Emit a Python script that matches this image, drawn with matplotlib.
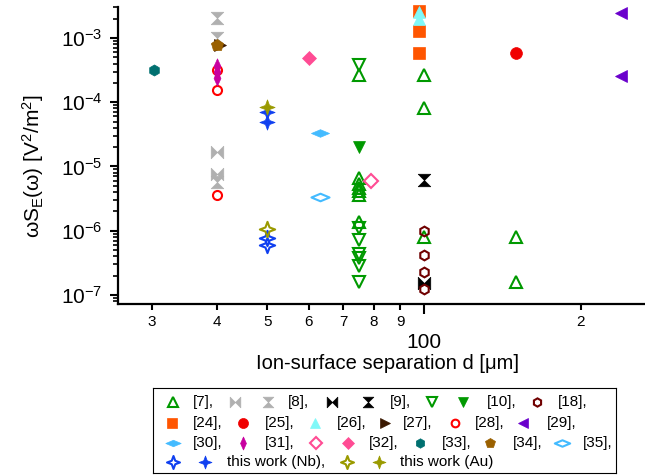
import numpy as np
import matplotlib
matplotlib.use('Agg')
from matplotlib import pyplot as plt
from matplotlib.path import Path
from matplotlib.ticker import FixedLocator, FixedFormatter, LogLocator, NullFormatter

plt.rcParams['font.family'] = ['Liberation Sans', 'DejaVu Sans']
plt.rcParams['mathtext.fontset'] = 'custom'
plt.rcParams['mathtext.rm'] = 'Liberation Sans'
plt.rcParams['mathtext.it'] = 'Liberation Sans:italic'
plt.rcParams['axes.unicode_minus'] = False

# data: separation d [um], omega*S_E [V^2/m^2]
d7 = [75, 75, 75, 75, 75, 75, 75, 100, 100, 100, 150, 150]
s7 = [2.7e-4, 6.6e-6, 5.4e-6, 4.6e-6, 4.2e-6, 3.6e-6, 1.37e-6, 2.7e-4, 8.1e-5, 8.0e-7, 8.0e-7, 1.6e-7]
d8_bow = [40, 40]
s8_bow = [1.69e-5, 7.5e-6]
d8_hg = [40, 40, 40]
s8_hg = [2.07e-3, 1.0e-3, 5.7e-6]
d9_bow = [100]
s9_bow = [1.55e-7]
d9_hg = [100]
s9_hg = [6.2e-6]
d10_open = [75, 75, 75, 75, 75, 75, 75]
s10_open = [3.8e-4, 1.11e-6, 7.2e-7, 4.35e-7, 3.77e-7, 2.83e-7, 1.59e-7]
d10_fill = [75]
s10_fill = [2.0e-5]
d18 = [100, 100, 100, 100]
s18 = [9.9e-7, 4.2e-7, 2.3e-7, 1.24e-7]
d24 = [98, 98, 98]
s24 = [2.65e-3, 1.29e-3, 5.86e-4]
d25 = [150]
s25 = [5.9e-4]
d26 = [98, 98]
s26 = [2.5e-3, 2.0e-3]
d27 = [40.5]
s27 = [7.8e-4]
d28 = [40, 40, 40]
s28 = [3.2e-4, 1.56e-4, 3.6e-6]
d29 = [239, 239]
s29 = [2.47e-3, 2.57e-4]
d30 = [63]
s30 = [3.3e-5]
d31 = [40, 40, 40]
s31 = [3.7e-4, 3.0e-4, 2.4e-4]
d32_open = [79]
s32_open = [6.0e-6]
d32_fill = [60]
s32_fill = [4.9e-4]
d33 = [30.3]
s33 = [3.2e-4]
d34 = [40]
s34 = [7.8e-4]
d35 = [63]
s35 = [3.35e-6]
dnb_open = [50, 50]
snb_open = [7.8e-7, 6.0e-7]
dnb_fill = [50, 50]
snb_fill = [7.1e-5, 4.9e-5]
dau_open = [50]
sau_open = [1.06e-6]
dau_fill = [50]
sau_fill = [8.5e-5]


def closed(verts):
    return Path(verts + [verts[0]], closed=True)


# custom marker shapes
hourglass = closed([(-1, 1), (1, 1), (0, 0), (1, -1), (-1, -1), (0, 0)])
bowtie = closed([(-1, -1), (-1, 1), (0, 0), (1, 1), (1, -1), (0, 0)])
pts = []
for k in range(8):
    r = 1.0 if k % 2 == 0 else 0.38
    a = np.pi / 2 + k * np.pi / 4
    pts.append((r * np.cos(a), r * np.sin(a)))
star4 = closed(pts)
wide_dia = closed([(-1, 0), (0, 0.42), (1, 0), (0, -0.42)])
thin_dia = closed([(-0.45, 0), (0, 1), (0.45, 0), (0, -1)])

green = '#009900'
styles = {
    '7': dict(marker='^', color=green, fill=False, ms=8.5),
    '8b': dict(marker=bowtie, color='#b0b0b0', fill=True, ms=9),
    '8h': dict(marker=hourglass, color='#b0b0b0', fill=True, ms=9),
    '9b': dict(marker=bowtie, color='black', fill=True, ms=9),
    '9h': dict(marker=hourglass, color='black', fill=True, ms=9),
    '10o': dict(marker='v', color=green, fill=False, ms=8.5),
    '10f': dict(marker='v', color=green, fill=True, ms=9),
    '18': dict(marker='h', color='#700000', fill=False, ms=7),
    '24': dict(marker='s', color='#ff5500', fill=True, ms=8.5),
    '25': dict(marker='o', color='#f00000', fill=True, ms=8.5),
    '26': dict(marker='^', color='#80f8f8', fill=True, ms=9),
    '27': dict(marker='>', color='#3a1800', fill=True, ms=8.5),
    '28': dict(marker='o', color='#ff0000', fill=False, ms=6.5),
    '29': dict(marker='<', color='#6a00cc', fill=True, ms=8.5),
    '30': dict(marker=wide_dia, color='#44bbff', fill=True, ms=13),
    '31': dict(marker=thin_dia, color='#c800a0', fill=True, ms=11),
    '32o': dict(marker='D', color='#ff4c94', fill=False, ms=7),
    '32f': dict(marker='D', color='#ff4c94', fill=True, ms=7),
    '33': dict(marker='h', color='#007070', fill=True, ms=8),
    '34': dict(marker='p', color='#9a6000', fill=True, ms=9),
    '35': dict(marker=wide_dia, color='#44bbff', fill=False, ms=13),
    'nbo': dict(marker=star4, color='#1040f0', fill=False, ms=11),
    'nbf': dict(marker=star4, color='#1040f0', fill=True, ms=11),
    'auo': dict(marker=star4, color='#9a9a00', fill=False, ms=11),
    'auf': dict(marker=star4, color='#9a9a00', fill=True, ms=11),
}

series = [
    ('7', d7, s7), ('8b', d8_bow, s8_bow), ('8h', d8_hg, s8_hg),
    ('9b', d9_bow, s9_bow), ('9h', d9_hg, s9_hg),
    ('10o', d10_open, s10_open), ('10f', d10_fill, s10_fill),
    ('18', d18, s18), ('24', d24, s24), ('25', d25, s25), ('26', d26, s26),
    ('27', d27, s27), ('28', d28, s28), ('29', d29, s29), ('30', d30, s30),
    ('31', d31, s31), ('32o', d32_open, s32_open), ('32f', d32_fill, s32_fill),
    ('33', d33, s33), ('34', d34, s34), ('35', d35, s35),
    ('nbo', dnb_open, snb_open), ('nbf', dnb_fill, snb_fill),
    ('auo', dau_open, sau_open), ('auf', dau_fill, sau_fill),
]


def draw(axis, key, x, y, scale=1.0):
    st = styles[key]
    axis.plot(x, y, linestyle='none', marker=st['marker'], ms=st['ms'] * scale,
              mec=st['color'], mfc=st['color'] if st['fill'] else 'none',
              mew=1.5 if not st['fill'] else 0.5, clip_on=False)


fig = plt.figure(figsize=(6.45, 4.76), dpi=100)
ax = fig.add_axes([118 / 645, 1 - 304 / 476, 527 / 645, 297 / 476])

for key, x, y in series:
    draw(ax, key, x, y)

ax.set_xscale('log')
ax.set_yscale('log')
ax.set_xlim(25.8, 266)
ax.set_ylim(7.2e-8, 3.04e-3)

for side in ['top', 'right']:
    ax.spines[side].set_visible(False)
for side in ['left', 'bottom']:
    ax.spines[side].set_linewidth(1.6)

ax.xaxis.set_major_locator(FixedLocator([100]))
ax.xaxis.set_major_formatter(FixedFormatter(['100']))
ax.xaxis.set_minor_locator(FixedLocator([30, 40, 50, 60, 70, 80, 90, 200]))
ax.xaxis.set_minor_formatter(FixedFormatter(['3', '4', '5', '6', '7', '8', '9', '2']))
ax.tick_params(axis='x', which='major', length=7, width=1.5, pad=14, labelsize=15)
ax.tick_params(axis='x', which='minor', length=4, width=1.5, pad=4, labelsize=11)

ax.yaxis.set_major_locator(LogLocator(base=10, numticks=10))
ax.yaxis.set_minor_locator(LogLocator(base=10, subs=np.arange(2, 10), numticks=20))
ax.yaxis.set_minor_formatter(NullFormatter())
ax.tick_params(axis='y', which='major', length=6, width=1.5, pad=5, labelsize=15)
ax.tick_params(axis='y', which='minor', length=3.5, width=1.2)

ax.set_xlabel('Ion-surface separation d [μm]', fontsize=14.5, va='center')
ax.xaxis.set_label_coords(0.512, -0.2)
ax.set_ylabel('ωS$_\\mathregular{E}$(ω) [V$^\\mathregular{2}$/m$^\\mathregular{2}$]', fontsize=15, va='center')
ax.yaxis.set_label_coords(-0.161, 0.465)

# legend box, laid out like the original (flowing rows)
lax = fig.add_axes([153 / 645, 1 - 473 / 476, 463 / 645, 85 / 476])
lax.set_xlim(153, 616)
lax.set_ylim(473, 388)
lax.set_xticks([])
lax.set_yticks([])
for sp in lax.spines.values():
    sp.set_linewidth(0.8)

legend_rows = [
    (402, [([(173, '7')], 193, '[7],'),
           ([(235, '8b'), (268, '8h')], 288, '[8],'),
           ([(332, '9b'), (368, '9h')], 390, '[9],'),
           ([(432, '10o'), (463, '10f')], 487, '[10],'),
           ([(537, '18')], 558, '[18],')]),
    (423, [([(172, '24')], 193, '[24],'),
           ([(243, '25')], 265, '[25],'),
           ([(315, '26')], 337, '[26],'),
           ([(385, '27')], 403, '[27],'),
           ([(455, '28')], 475, '[28],'),
           ([(523, '29')], 547, '[29],')]),
    (443, [([(173, '30')], 193, '[30],'),
           ([(243, '31')], 265, '[31],'),
           ([(316, '32o'), (348, '32f')], 369, '[32],'),
           ([(420, '33')], 442, '[33],'),
           ([(490, '34')], 513, '[34],'),
           ([(562, '35')], 583, '[35],')]),
    (462, [([(173, 'nbo'), (205, 'nbf')], 227, 'this work (Nb),'),
           ([(347, 'auo'), (379, 'auf')], 400, 'this work (Au)')]),
]
for ry, entries in legend_rows:
    for marks, tx, label in entries:
        for mx, key in marks:
            draw(lax, key, [mx], [ry], scale=0.85)
        lax.text(tx, ry, label, fontsize=11, va='center', ha='left')

fig.savefig('out.png', dpi=100)
